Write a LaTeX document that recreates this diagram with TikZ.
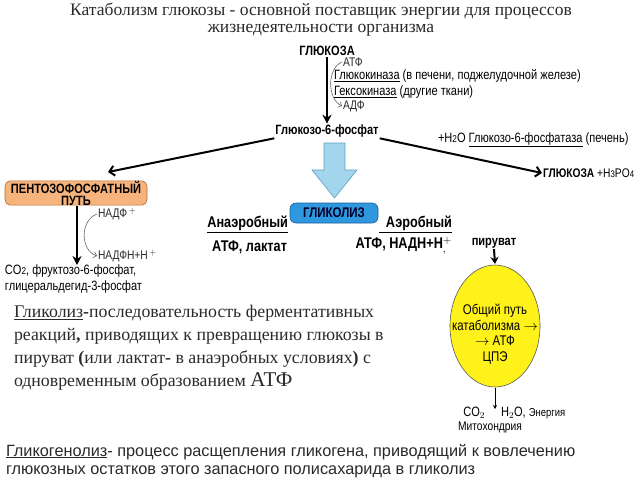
\documentclass[tikz,border=0pt]{standalone}
\usepackage{fontspec}
\setmainfont{Liberation Serif}
\newfontfamily\nar[FakeStretch=0.82]{Liberation Sans}
\newfontfamily\ars{Liberation Sans}
\usetikzlibrary{arrows.meta,shapes.geometric}
\definecolor{pporange}{HTML}{F6B47C}
\definecolor{ppborder}{HTML}{B8692A}
\definecolor{glblue}{HTML}{2E97DE}
\definecolor{glborder}{HTML}{1B5E9A}
\definecolor{bigarrow}{HTML}{A3D5EC}
\definecolor{bigarrowb}{HTML}{5D9FC4}
\definecolor{ellyellow}{HTML}{FFF21A}
\definecolor{txtgray}{HTML}{2A2A2A}
\begin{document}
\begin{tikzpicture}[x=1pt,y=-1pt,
  every node/.style={inner sep=0pt,outer sep=1pt},
  lbl/.style={font=\nar\fontsize{13.5}{15}\selectfont},
  blbl/.style={font=\nar\bfseries\fontsize{13.5}{15}\selectfont},
  bigblbl/.style={font=\nar\bfseries\fontsize{15.5}{17}\selectfont},
  sml/.style={font=\nar\fontsize{12.5}{14}\selectfont, text=txtgray},
  thickarrow/.style={line width=2.4pt,-{Stealth[length=9pt,width=9pt]}},
  diagarrow/.style={line width=2pt,-{Straight Barb[length=5pt,width=10pt,line width=2pt]}},
  curvearrow/.style={line width=0.6pt,draw=gray!80!black,-{Straight Barb[length=3pt,width=6pt]}},
  thinarrow/.style={line width=0.8pt,-{Stealth[length=4pt,width=4pt]}}]
\useasboundingbox[fill=white] (0,0) rectangle (640,480);

% title
\node[font=\fontsize{17.5}{17}\selectfont, align=center, text=txtgray] (title) at (321,20)
  {Катаболизм глюкозы - основной поставщик энергии для процессов\\жизнедеятельности организма};

% glucose -> G6P
\node[blbl] (glc) at (327,51) {ГЛЮКОЗА};
\node[blbl] (g6p) at (327,131) {Глюкозо-6-фосфат};
\draw[thickarrow] (glc.south) -- (g6p.north);
\node[sml, anchor=west] (atf) at (342,62) {АТФ};
\node[sml, anchor=west] (adf) at (342,106) {АДФ};
\draw[curvearrow] (atf.west) .. controls (327,68) and (327,99) .. (adf.west);
\node[lbl, anchor=west] (gk) at (333,76) {\underline{Глюкокиназа} (в печени, поджелудочной железе)};
\node[lbl, anchor=west] (hk) at (333,92) {\underline{Гексокиназа} (другие ткани)};

% right branch
\node[lbl, anchor=west] (g6pase) at (437,140)
  {+H{\fontsize{10}{10}\selectfont 2}O \underline{Глюкозо-6-фосфатаза} (печень)};
\node[lbl, anchor=west, font=\nar\fontsize{12.5}{14}\selectfont] (glc2) at (542,173)
  {\bfseries ГЛЮКОЗА\mdseries\ +H{\fontsize{9.5}{10}\selectfont 3}PO{\fontsize{9.5}{10}\selectfont 4}};
\draw[diagarrow] (g6p.south east) -- (glc2.west);

% left branch
\coordinate (lend) at (108,172);
\draw[diagarrow] (g6p.south west) -- (lend);

% big blue arrow
\draw[fill=bigarrow, draw=bigarrowb, line width=0.6pt]
  (324,143) -- (345,143) -- (345,170) -- (357,170) -- (334.5,198) -- (312,170) -- (324,170) -- cycle;

% glycolysis box
\node[draw=glborder, fill=glblue, rounded corners=6pt, minimum width=88pt, minimum height=20pt,
  font=\nar\bfseries\fontsize{14}{15}\selectfont, text=black!85!blue, line width=0.6pt] (glyc) at (334,213) {ГЛИКОЛИЗ};

\node[bigblbl, anchor=east] (anaer) at (289,224) {\underline{Анаэробный}};
\node[bigblbl, anchor=east] (anaerp) at (288,247) {АТФ, лактат};
\node[bigblbl, anchor=east] (aer) at (453,224) {\underline{\ \ Аэробный}};
\node[bigblbl, anchor=east] (aerp) at (453,246) {АТФ, НАДН+Н$^{+}_{,}$};
\node[blbl] (pyr) at (494,243) {пируват};

% pentose phosphate pathway
\node[draw=ppborder, fill=pporange, rounded corners=6pt, minimum width=142pt, minimum height=24pt,
  align=center, font=\nar\bfseries\fontsize{13.5}{12}\selectfont, line width=0.6pt] (ppp) at (76,193)
  {ПЕНТОЗОФОСФАТНЫЙ\\ПУТЬ};
\node[lbl, anchor=north west, align=left] (ppprod) at (4,264)
  {CO{\fontsize{10}{10}\selectfont 2}, фруктозо-6-фосфат,\\[1pt]глицеральдегид-3-фосфат};
\draw[thickarrow] (ppp.south -| 77,0) -- (77,265);
\node[sml, anchor=west] (nadf) at (97,214) {НАДФ$^{\,+}$};
\node[sml, anchor=west] (nadfh) at (97,256) {НАДФН+Н$^{\,+}$};
\draw[curvearrow] (nadf.west) .. controls (80,220) and (80,250) .. (nadfh.west);

% common pathway
\node[ellipse, draw=gray!70!black, fill=ellyellow, minimum width=90pt, minimum height=122pt, line width=0.6pt] (ell) at (495,326) {};
\node[lbl, align=center, font=\nar\fontsize{14}{15.5}\selectfont] (elltxt) at (495,334)
  {Общий путь\\катаболизма $\rightarrow$\\$\rightarrow$ АТФ\\ЦПЭ};
\draw[thickarrow, line width=2pt, -{Stealth[length=7pt,width=8pt]}] (pyr.south) -- (ell.north);
\coordinate (mend) at (495,409);
\draw[thinarrow] (ell.south) -- (mend);
\node[lbl, anchor=east] (co2) at (486,413) {CO$_2$};
\node[lbl, anchor=west] (h2o) at (500,413) {H$_2$O, {\fontsize{11.5}{11}\selectfont Энергия}};
\node[lbl, font=\nar\fontsize{12.5}{14}\selectfont] (mito) at (490,427) {Митохондрия};

% glycolysis definition
\node[anchor=north west, align=left, font=\fontsize{17.8}{23}\selectfont, text=txtgray] (gdef) at (13,304)
  {\underline{Гликолиз}\textbf{-}последовательность ферментативных\\
   реакций\textbf{,} приводящих к превращению глюкозы в\\
   пируват \textbf{(}или лактат\textbf{-} в анаэробных условиях\textbf{)} с\\
   одновременным образованием {\fontsize{21}{23}\selectfont АТФ}};

% glycogenolysis
\node[anchor=north west, align=left, font=\ars\fontsize{16.3}{18}\selectfont, text=txtgray] (gg) at (5,443)
  {\underline{Гликогенолиз}- процесс расщепления гликогена, приводящий к вовлечению\\
   глюкозных остатков этого запасного полисахарида в гликолиз};
\end{tikzpicture}
\end{document}
